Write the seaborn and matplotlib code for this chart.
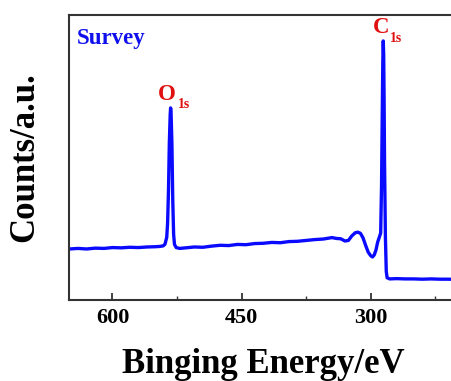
import numpy as np
import pandas as pd
import matplotlib
matplotlib.use('Agg')
import matplotlib.pyplot as plt
import seaborn as sns
from matplotlib.ticker import MultipleLocator

# binding energy (eV) and counts (a.u.)
energy = [650, 640, 630, 620, 610, 600, 590, 580, 570, 560, 550, 545, 541,
          539, 537, 536, 535, 534, 533, 532.5, 532, 531, 530, 529, 528, 526,
          522, 515, 505, 495, 485, 475, 465, 455, 445, 435, 425, 415, 405,
          395, 385, 375, 365, 355, 345, 340, 335, 330, 326, 322, 318, 315,
          312, 309, 306, 303, 300, 298, 296, 294, 292, 290, 288.5, 287.5,
          286.5, 286, 285.5, 285, 284.5, 284, 283, 282, 281, 278, 270, 260,
          250, 240, 230, 220, 210, 200]
counts = [17.9, 18.1, 17.9, 18.2, 18.1, 18.4, 18.3, 18.5, 18.4, 18.6, 18.7, 18.8, 19.0,
          19.6, 22.0, 27.0, 38.0, 55.0, 65.0, 67.4, 66.0, 55.0, 35.0, 23.0, 19.5, 18.4,
          18.1, 18.3, 18.6, 18.5, 18.9, 19.2, 19.1, 19.5, 19.4, 19.8, 19.9, 20.2, 20.1,
          20.5, 20.6, 20.9, 21.2, 21.4, 21.9, 21.6, 21.5, 20.7, 20.9, 22.5, 23.6, 23.8,
          23.4, 21.8, 19.2, 16.8, 15.5, 15.1, 15.8, 17.5, 20.3, 22.1, 23.5, 40.0,
          70.0, 84.0, 90.9, 86.0, 70.0, 48.0, 22.0, 10.0, 7.8, 7.4, 7.5, 7.4,
          7.4, 7.3, 7.4, 7.3, 7.3, 7.2]

df = pd.DataFrame({'energy': energy, 'counts': counts})

sns.set_style('ticks')
plt.rcParams['font.family'] = ['Liberation Serif', 'DejaVu Serif']
plt.rcParams['font.weight'] = 'bold'
plt.rcParams['text.color'] = 'black'
plt.rcParams['axes.labelcolor'] = 'black'

fig = plt.figure(figsize=(4.51, 3.81), dpi=100)
ax = fig.add_axes([0.154, 0.2126, 0.859, 0.748])

sns.lineplot(data=df, x='energy', y='counts', color='#0a0aff', lw=2.4, ax=ax,
             sort=False, estimator=None)

ax.set_xlim(650, 200)
ax.set_ylim(0, 100)
ax.xaxis.set_major_locator(MultipleLocator(150))
ax.xaxis.set_minor_locator(MultipleLocator(75))
ax.set_yticks([])
ax.tick_params(axis='x', which='major', direction='in', length=5, width=1.3,
               labelsize=16, pad=6, color='#333333', labelcolor='black')
ax.tick_params(axis='x', which='minor', direction='in', length=3, width=1.0,
               color='#333333')
for lab in ax.get_xticklabels():
    lab.set_fontweight('bold')
for s in ax.spines.values():
    s.set_linewidth(1.5)
    s.set_color('#333333')

ax.set_xlabel('Binging Energy/eV', fontsize=25, fontweight='bold', labelpad=14)
ax.set_ylabel('Counts/a.u.', fontsize=25, fontweight='bold', labelpad=20)

ax.text(0.02, 0.955, 'Survey', transform=ax.transAxes, color='#1010ee',
        fontsize=16.5, fontweight='bold', va='top', ha='left')
# peak labels with small subscripts
ax.text(537, 70.2, 'O', color='#e01010', fontsize=16.5, fontweight='bold',
        ha='center', va='baseline')
ax.text(523.5, 67.4, '1s', color='#e01010', fontsize=10, fontweight='bold',
        ha='left', va='baseline')
ax.text(288.4, 93.7, 'C', color='#e01010', fontsize=16.5, fontweight='bold',
        ha='center', va='baseline')
ax.text(278, 90.5, '1s', color='#e01010', fontsize=10, fontweight='bold',
        ha='left', va='baseline')

fig.savefig('out.png', dpi=100)
